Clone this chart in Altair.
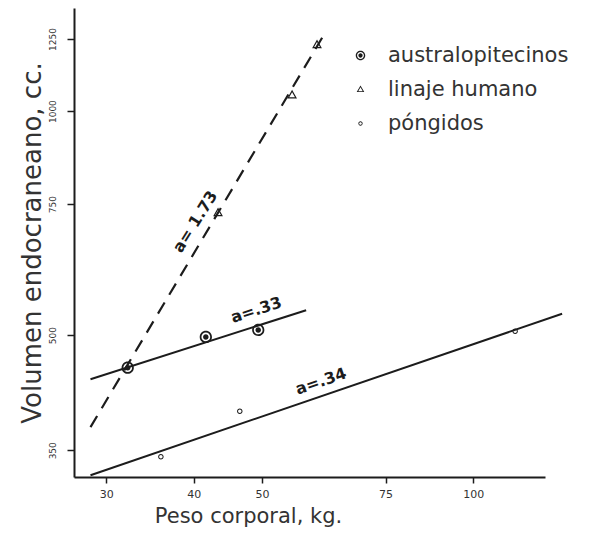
import altair as alt
import pandas as pd

# ---- data ----
grupos = ["australopitecinos", "linaje humano", "póngidos"]

austral_peso = [32.2, 41.6, 49.4]
austral_vol = [452, 497, 508]
humano_peso = [43.3, 55.2, 59.9]
humano_vol = [730, 1051, 1228]
pong_peso = [35.9, 46.5, 114.7]
pong_vol = [343, 395, 506]

# regression lines (end points)
linea_humano_peso = [28.5, 61.5]
linea_humano_vol = [376, 1274]
linea_austral_peso = [28.5, 57.8]
linea_austral_vol = [436, 540]
linea_pong_peso = [28.5, 133.8]
linea_pong_vol = [324, 534]

etiquetas = ["a= 1.73", "a=.33", "a=.34"]
etiq_peso = [40.2, 49.1, 60.7]
etiq_vol = [710, 540, 433]

x_ticks = [30, 40, 50, 75, 100]
y_ticks = [350, 500, 750, 1000, 1250]
x_dom = [27.0, 126.5]
y_dom = [322.2, 1376]

# ---- tables ----
puntos = pd.DataFrame({
    "grupo": [grupos[0]] * 3 + [grupos[1]] * 3 + [grupos[2]] * 3,
    "peso": austral_peso + humano_peso + pong_peso,
    "vol": austral_vol + humano_vol + pong_vol,
})
linea_h = pd.DataFrame({"peso": linea_humano_peso, "vol": linea_humano_vol})
lineas_s = pd.DataFrame({
    "linea": ["a", "a", "p", "p"],
    "peso": linea_austral_peso + linea_pong_peso,
    "vol": linea_austral_vol + linea_pong_vol,
})

FONT = "DejaVu Sans"
INK = "#1c1c1c"
TXT = "#333333"

ring_dot = ("M -1 0 A 1 1 0 1 1 1 0 A 1 1 0 1 1 -1 0 Z "
            "M -0.72 0 A 0.72 0.72 0 1 0 0.72 0 A 0.72 0.72 0 1 0 -0.72 0 Z "
            "M -0.45 0 A 0.45 0.45 0 1 1 0.45 0 A 0.45 0.45 0 1 1 -0.45 0 Z")
tri_open = ("M 0 -0.85 L 0.8 0.55 L -0.8 0.55 Z "
            "M 0 -0.47 L -0.47 0.35 L 0.47 0.35 Z")
small_ring = ("M -0.45 0 A 0.45 0.45 0 1 1 0.45 0 A 0.45 0.45 0 1 1 -0.45 0 Z "
              "M -0.28 0 A 0.28 0.28 0 1 0 0.28 0 A 0.28 0.28 0 1 0 -0.28 0 Z")

xs = alt.Scale(type="log", domain=x_dom, nice=False, zero=False)
ys = alt.Scale(type="log", domain=y_dom, nice=False, zero=False)

x_axis = alt.Axis(values=x_ticks, format="d", title="Peso corporal, kg.",
                  titleX=174, titleAlign="center", titlePadding=6,
                  titleFontSize=21, titleFont=FONT, titleFontWeight="normal",
                  titleColor=TXT, labelFont=FONT, labelFontSize=11,
                  labelColor=TXT, labelPadding=5, tickSize=6, tickWidth=1.5,
                  tickColor=INK, domainColor=INK, domainWidth=2, grid=False)
y_axis = alt.Axis(values=y_ticks, format="d", title="Volumen endocraneano, cc.",
                  titleFontSize=26, titleFont=FONT, titleFontWeight="normal",
                  titleColor=TXT, titlePadding=3, labelAngle=270,
                  labelAlign="center", labelBaseline="bottom",
                  labelFont=FONT, labelFontSize=9, labelColor=TXT,
                  labelPadding=10, tickSize=7, tickWidth=1.5, tickColor=INK,
                  domainColor=INK, domainWidth=2, grid=False)

pts = alt.Chart(puntos).mark_point(filled=True, size=150, opacity=1,
                                   color=INK, strokeWidth=0).encode(
    x=alt.X("peso:Q", scale=xs, axis=x_axis),
    y=alt.Y("vol:Q", scale=ys, axis=y_axis),
    shape=alt.Shape("grupo:N",
                    scale=alt.Scale(domain=grupos,
                                    range=[ring_dot, tri_open, small_ring]),
                    legend=alt.Legend(title=None, orient="none", legendX=276,
                                      legendY=37, labelFont=FONT,
                                      labelFontSize=21, labelColor=TXT,
                                      labelLimit=400,
                                      labelOffset=17, rowPadding=12,
                                      symbolSize=90, symbolFillColor=INK,
                                      symbolStrokeWidth=0, padding=0)),
)

dash = alt.Chart(linea_h).mark_line(color=INK, strokeWidth=2.2,
                                    strokeDash=[13, 9]).encode(
    x=alt.X("peso:Q", scale=xs), y=alt.Y("vol:Q", scale=ys))

solid = alt.Chart(lineas_s).mark_line(color=INK, strokeWidth=2).encode(
    x=alt.X("peso:Q", scale=xs), y=alt.Y("vol:Q", scale=ys),
    detail="linea:N")

angulos = [302, 342, 341]
textos = []
for i in range(3):
    df = pd.DataFrame({"t": [etiquetas[i]], "peso": [etiq_peso[i]],
                       "vol": [etiq_vol[i]]})
    textos.append(alt.Chart(df).mark_text(
        font=FONT, fontSize=16, fontWeight="bold", color=INK,
        angle=angulos[i], align="center", baseline="middle").encode(
        x=alt.X("peso:Q", scale=xs), y=alt.Y("vol:Q", scale=ys), text="t:N"))

chart = alt.layer(dash, solid, *textos, pts).properties(
    width=471, height=469,
    autosize=alt.AutoSizeParams(type="none"),
    padding={"left": 66, "top": 0, "right": 50, "bottom": 52},
    background="white",
).configure_view(stroke=None)

chart.save("out.html", embed_options={"renderer": "svg", "actions": False})
